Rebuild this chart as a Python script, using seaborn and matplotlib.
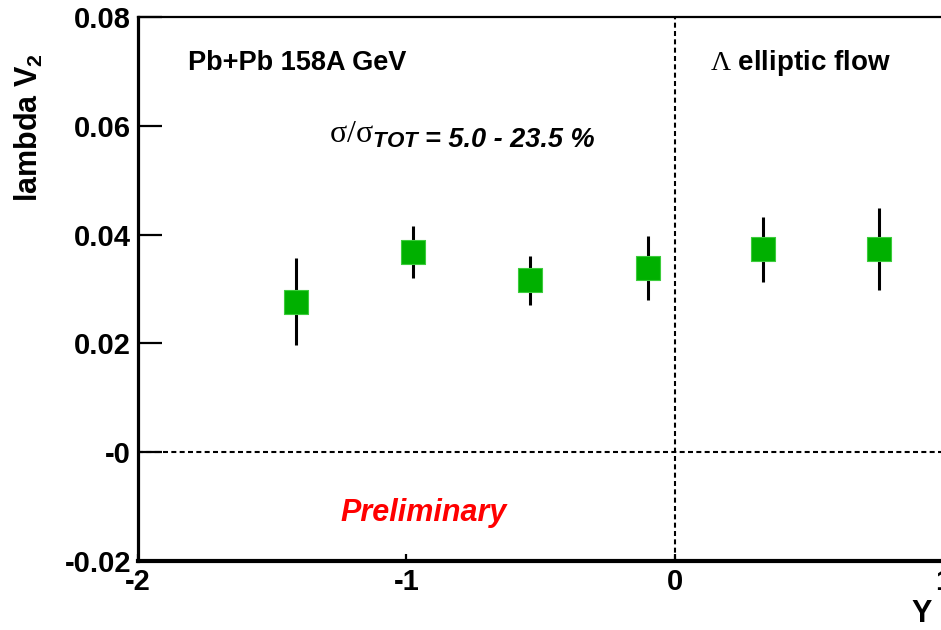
import matplotlib
matplotlib.use("Agg")
import matplotlib.pyplot as plt
import seaborn as sns
import numpy as np
import pandas as pd

# Lambda v2 vs rapidity, Pb+Pb 158A GeV
rapidity = [-1.41, -0.975, -0.54, -0.10, 0.33, 0.76]
v2 = [0.0277, 0.0368, 0.0316, 0.0338, 0.0373, 0.0373]
v2_err = [0.0080, 0.0047, 0.0045, 0.0059, 0.0060, 0.0075]

y_ticks = [-0.02, 0.0, 0.02, 0.04, 0.06, 0.08]
y_tick_labels = ["-0.02", "-0", "0.02", "0.04", "0.06", "0.08"]
x_ticks = [-2, -1, 0, 1]
x_tick_labels = ["-2", "-1", "0", "1"]

df = pd.DataFrame({"y": rapidity, "v2": v2, "err": v2_err})

sns.set_theme(style="ticks")
plt.rcParams["font.family"] = ["Liberation Sans", "DejaVu Sans"]
plt.rcParams["font.weight"] = "bold"
plt.rcParams["mathtext.fontset"] = "custom"
plt.rcParams["mathtext.rm"] = "Liberation Sans:bold"
plt.rcParams["mathtext.it"] = "Liberation Sans:italic:bold"
plt.rcParams["mathtext.bf"] = "Liberation Sans:bold"
# thin serif Greek letters
plt.rcParams["mathtext.sf"] = "Liberation Serif:weight=normal"

fig = plt.figure(figsize=(9.41, 6.30), dpi=100, facecolor="white")
ax = fig.add_axes([138 / 941, 1 - 561 / 630, (943 - 138) / 941, (561 - 17) / 630])
ax.set_facecolor("white")

# reference lines at zero
ax.axhline(0, color="black", lw=1.5, ls=(0, (2.4, 1.6)), zorder=1)
ax.axvline(0, color="black", lw=1.5, ls=(0, (2.4, 1.6)), zorder=1)

# error bars then square markers
ax.vlines(df["y"], df["v2"] - df["err"], df["v2"] + df["err"],
          color="black", lw=2.2, zorder=2)
sns.scatterplot(data=df, x="y", y="v2", marker="s", s=275, color="#00b000",
                edgecolor="#3ccc3c", linewidth=0.8, zorder=3, ax=ax, legend=False)

ax.set_xlim(-2, 1)
ax.set_ylim(-0.02, 0.08)

ax.set_yticks(y_ticks)
ax.set_yticklabels(y_tick_labels)
ax.set_xticks(x_ticks)
ax.set_xticklabels(x_tick_labels)
ax.tick_params(axis="y", direction="in", length=17, width=1.6, pad=5,
               labelsize=21, colors="black")
ax.tick_params(axis="x", direction="in", length=5, width=1.6, pad=5,
               labelsize=21, colors="black")
for lab in ax.get_xticklabels() + ax.get_yticklabels():
    lab.set_fontweight("bold")

for side, lw in [("left", 2.3), ("bottom", 3.0), ("top", 1.6), ("right", 1.6)]:
    ax.spines[side].set_linewidth(lw)
    ax.spines[side].set_color("black")
    ax.spines[side].set_visible(True)

ax.set_xlabel("Y", fontsize=22, fontweight="bold", color="black")
ax.xaxis.set_label_coords((922 - 138) / 805, (561 - 614) / 544)
ax.xaxis.label.set_va("center")
ax.set_ylabel(r"lambda V$_{2}$", fontsize=22, fontweight="bold", color="black")
ax.yaxis.set_label_coords((29 - 138) / 805, (561 - 128) / 544)
ax.yaxis.label.set_va("center")

ax.text(-1.814, 0.0703, "Pb+Pb 158A GeV", fontsize=19.5, fontweight="bold",
        va="baseline", ha="left", color="black")
ax.text(0.132, 0.0703, r"$\mathsf{\Lambda}$ elliptic flow", fontsize=20,
        fontweight="bold", va="baseline", ha="left", color="black")
ax.text(-1.29, 0.0568, r"$\mathsf{\sigma/\sigma}_{TOT}$", fontsize=23,
        va="baseline", ha="left", color="black")
ax.text(-0.930, 0.0561, "= 5.0 - 23.5 %", fontsize=19.5, fontweight="bold",
        fontstyle="italic", va="baseline", ha="left", color="black")
ax.text(-1.247, -0.0127, "Preliminary", fontsize=22, fontweight="bold",
        fontstyle="italic", va="baseline", ha="left", color="#ff0000")

fig.savefig("out.png", dpi=100, facecolor="white")
